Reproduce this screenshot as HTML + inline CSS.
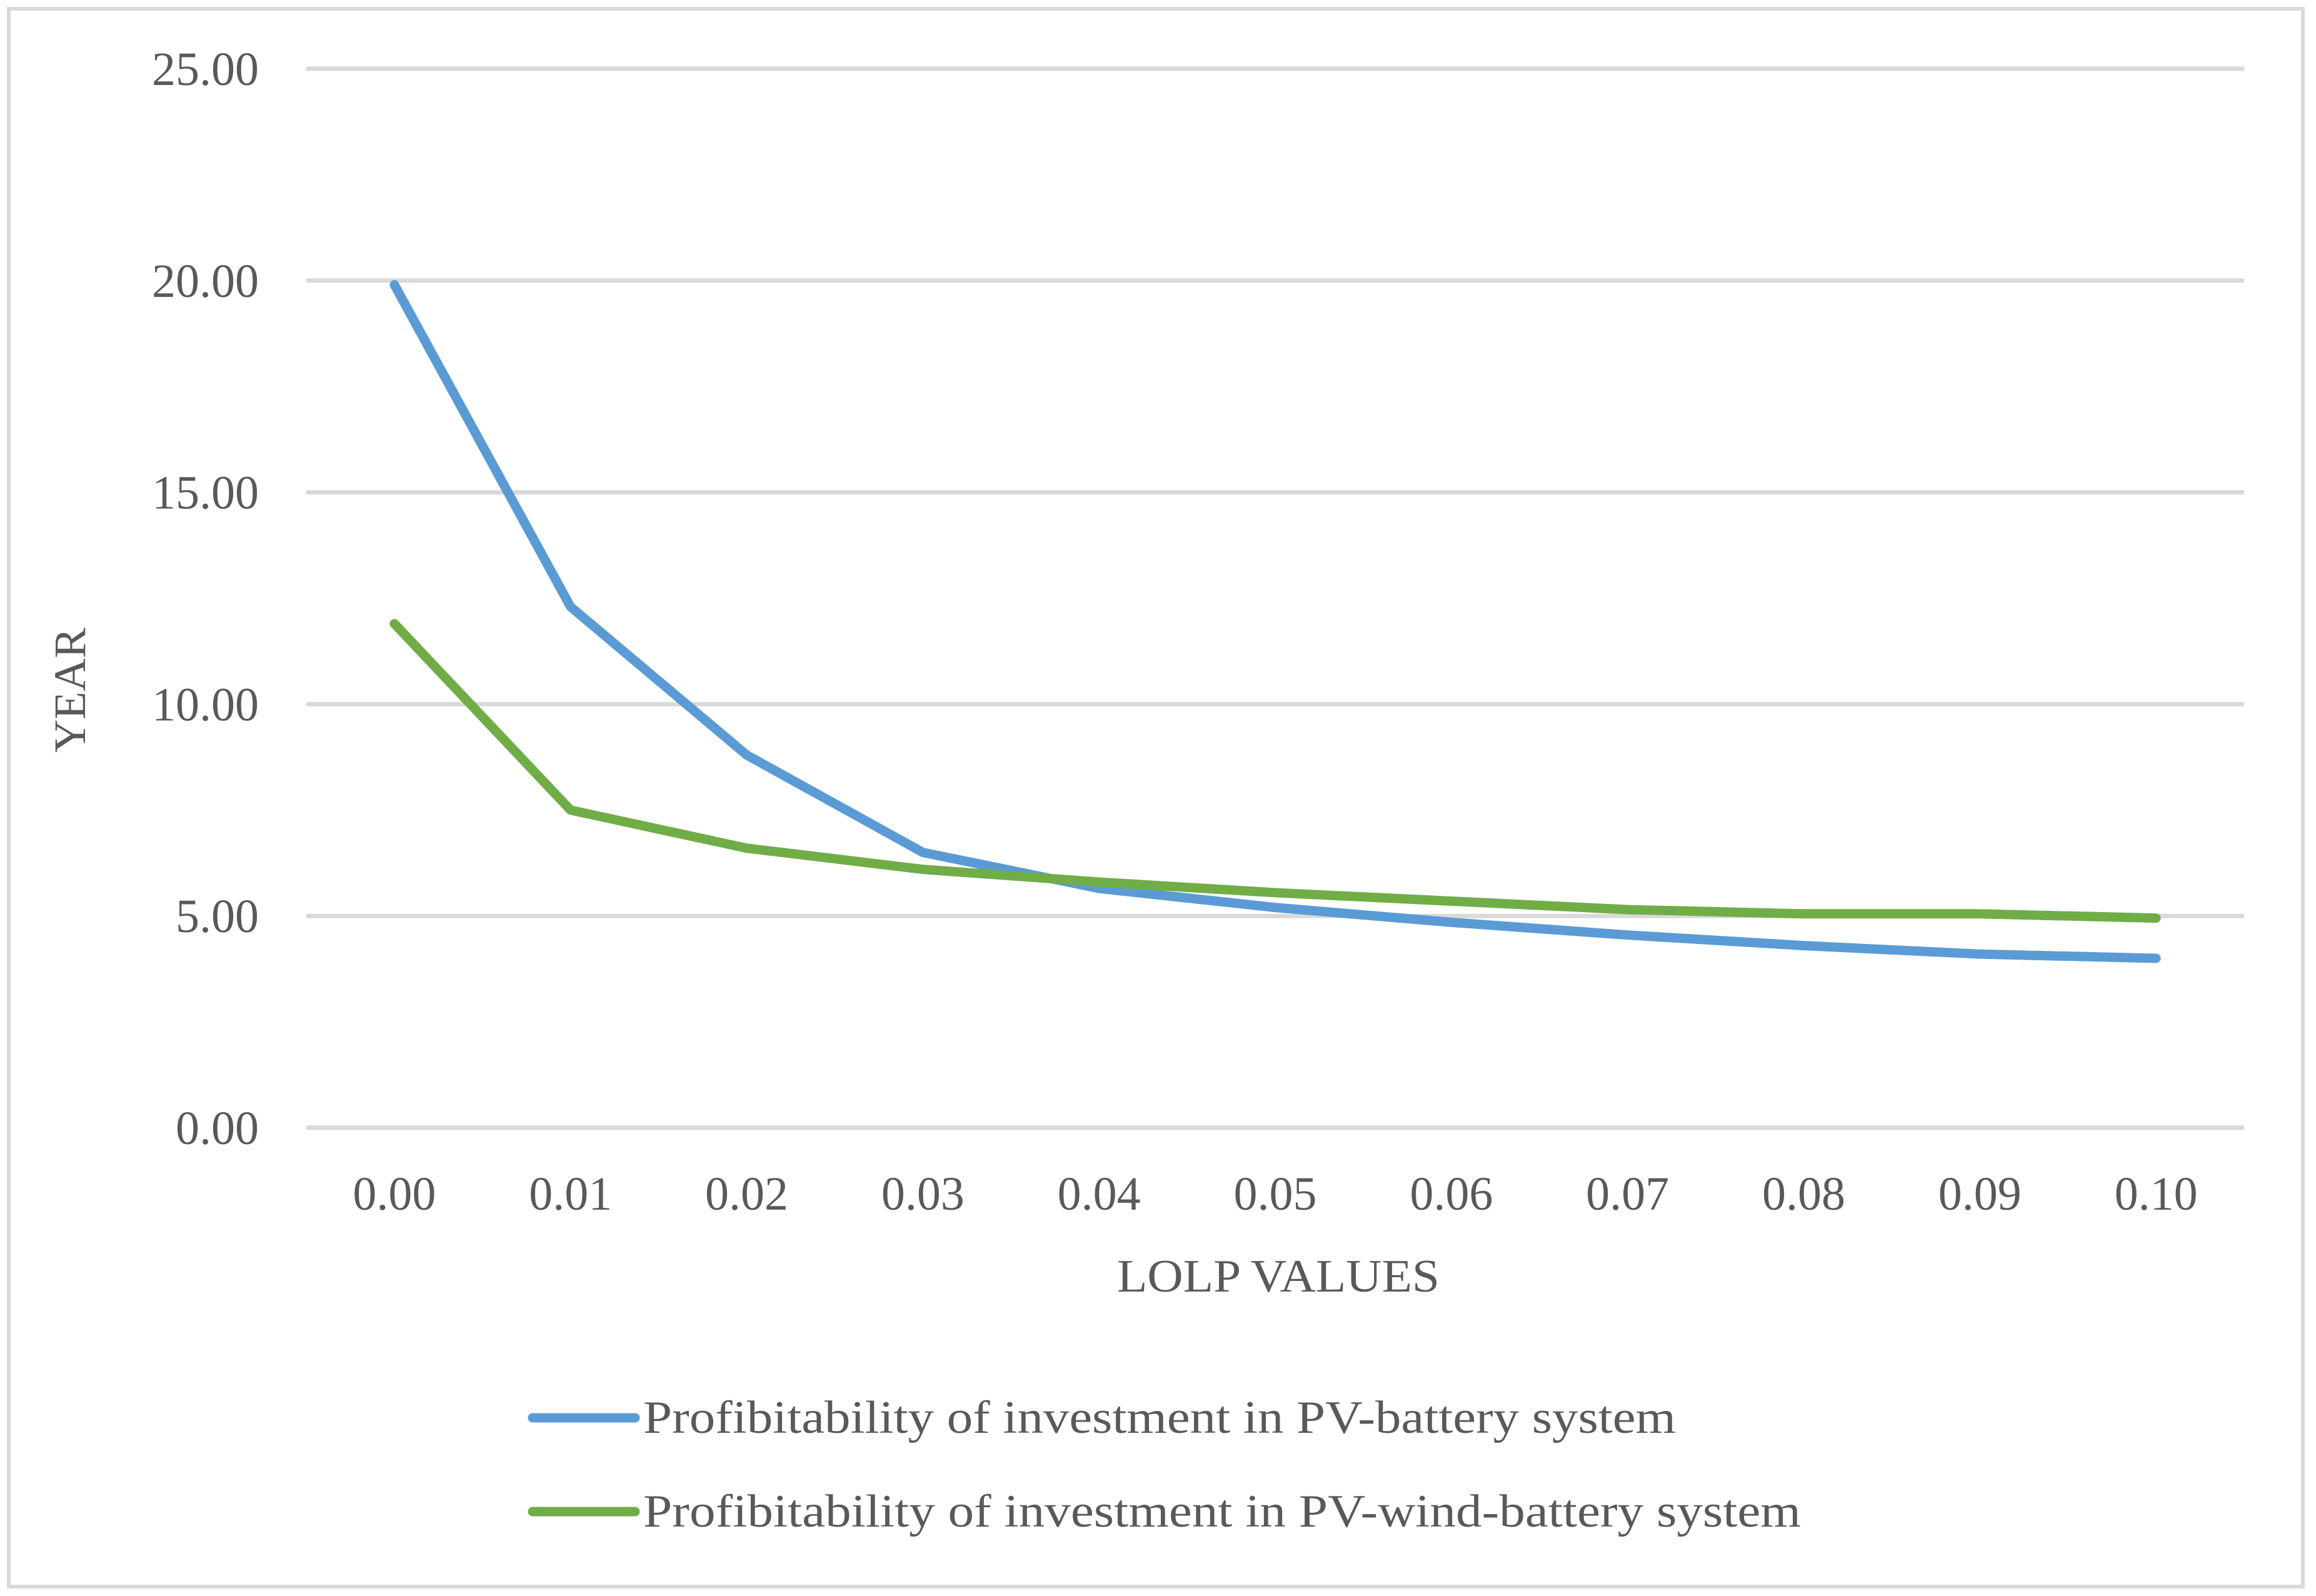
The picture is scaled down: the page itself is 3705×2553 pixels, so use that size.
<!DOCTYPE html>
<html><head><meta charset="utf-8"><style>
html,body{margin:0;padding:0;background:#fff}
svg{display:block}
text{font-family:"Liberation Serif",serif;fill:#595959}
</style></head><body>
<svg id="chart" width="3705" height="2553" viewBox="0 0 3705 2553" xmlns="http://www.w3.org/2000/svg">
<rect x="14" y="14" width="3670" height="2524" fill="#fff" stroke="#d9d9d9" stroke-width="6"/>
<g id="grid"></g>
<g id="xticks"></g>
<g id="yticks"></g>
<g id="series"></g>
<text x="0" y="0" font-size="72" text-anchor="middle" textLength="200" lengthAdjust="spacingAndGlyphs" transform="translate(136,1104) rotate(-90)">YEAR</text>
<text x="2045" y="2066" font-size="74" text-anchor="middle" textLength="516" lengthAdjust="spacingAndGlyphs">LOLP VALUES</text>
<g>
<line x1="852" y1="2268" x2="1016" y2="2268" stroke="#5b9bd5" stroke-width="15" stroke-linecap="round"/>
<text x="1029" y="2292" font-size="74" textLength="1652" lengthAdjust="spacingAndGlyphs">Profibitability of investment in PV-battery system</text>
<line x1="852" y1="2418" x2="1016" y2="2418" stroke="#70ad47" stroke-width="15" stroke-linecap="round"/>
<text x="1029" y="2442" font-size="74" textLength="1852" lengthAdjust="spacingAndGlyphs">Profibitability of investment in PV-wind-battery system</text>
</g>
</svg>
<script>
const categories = ["0.00","0.01","0.02","0.03","0.04","0.05","0.06","0.07","0.08","0.09","0.10"];
const pvBattery = [19.9, 12.3, 8.8, 6.5, 5.65, 5.2, 4.85, 4.55, 4.3, 4.1, 4.0];
const pvWindBattery = [11.9, 7.5, 6.6, 6.1, 5.8, 5.55, 5.35, 5.15, 5.05, 5.05, 4.95];
const yTicks = [0, 5, 10, 15, 20, 25];
const yTickLabels = ["0.00","5.00","10.00","15.00","20.00","25.00"];

const NS = "http://www.w3.org/2000/svg";
const plotLeft = 490, plotRight = 3590, plotTop = 110, plotBottom = 1804, yMax = 25;
const band = (plotRight - plotLeft) / categories.length;
function xScale(i){ return plotLeft + band * (i + 0.5); }
function yScale(v){ return plotBottom - (v / yMax) * (plotBottom - plotTop); }
function mk(tag, attrs, parent){ const e = document.createElementNS(NS, tag); for (const k in attrs) e.setAttribute(k, attrs[k]); parent.appendChild(e); return e; }

const grid = document.getElementById('grid');
const yt = document.getElementById('yticks');
yTicks.forEach((v, i) => {
  const l = mk('line', {x1:plotLeft, x2:plotRight, y1:yScale(v), y2:yScale(v), stroke:'#d9d9d9', 'stroke-width':7}, grid);
  
  
  const t = mk('text', {x:414, y:yScale(v) + 26, 'font-size':76, 'text-anchor':'end'}, yt);
  t.textContent = yTickLabels[i];
  
  
});
const xt = document.getElementById('xticks');
categories.forEach((c, i) => {
  const t = mk('text', {x:xScale(i), y:1935, 'font-size':76, 'text-anchor':'middle'}, xt);
  t.textContent = c;
  
  
});
const ser = document.getElementById('series');
function drawLine(vals, color, name){
  const pts = vals.map((v, i) => xScale(i) + ',' + yScale(v)).join(' ');
  const p = mk('polyline', {points:pts, fill:'none', stroke:color, 'stroke-width':15, 'stroke-linejoin':'round', 'stroke-linecap':'round'}, ser);
  
  
}
drawLine(pvBattery, '#5b9bd5', 'line-pv-battery');
drawLine(pvWindBattery, '#70ad47', 'line-pv-wind-battery');
</script>
</body></html>
